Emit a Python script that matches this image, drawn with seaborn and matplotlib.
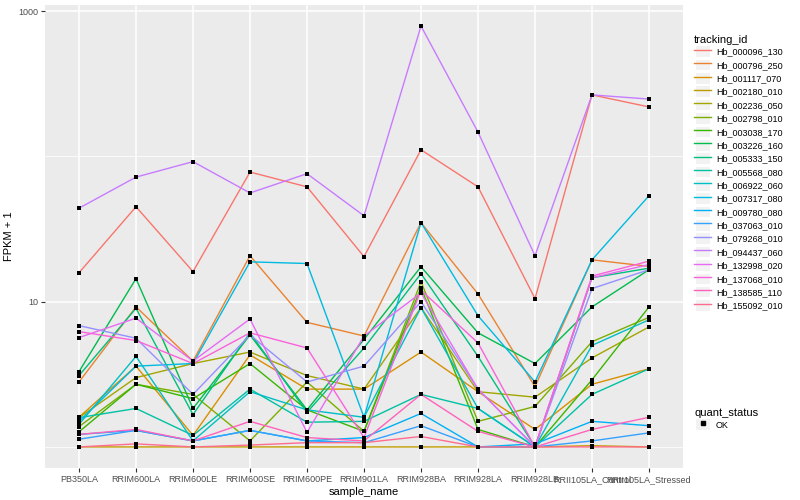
import pandas as pd
import matplotlib
matplotlib.use('Agg')
import matplotlib.pyplot as plt
import seaborn as sns
from matplotlib.lines import Line2D
from matplotlib.patches import Rectangle
from matplotlib.legend_handler import HandlerLine2D
from matplotlib.ticker import FixedLocator, NullFormatter

# =============================================================================
# Data (FPKM + 1)
# =============================================================================
samples = ['PB350LA', 'RRIM600LA', 'RRIM600LE', 'RRIM600SE', 'RRIM600PE',
           'RRIM901LA', 'RRIM928BA', 'RRIM928LA', 'RRIM928LB',
           'RRII105LA_Control', 'RRII105LA_Stressed']

tracking_ids = ['Hb_000096_130', 'Hb_000796_250', 'Hb_001117_070',
                'Hb_002180_010', 'Hb_002236_050', 'Hb_002798_010',
                'Hb_003038_170', 'Hb_003226_160', 'Hb_005333_150',
                'Hb_005568_080', 'Hb_006922_060', 'Hb_007317_080',
                'Hb_009780_080', 'Hb_037063_010', 'Hb_079268_010',
                'Hb_094437_060', 'Hb_132998_020', 'Hb_137068_010',
                'Hb_138585_110', 'Hb_155092_010']

hb_000096_130 = [15.8, 45, 16.1, 78, 61.7, 20.4, 111, 61.7, 10.5, 265, 219]
hb_000796_250 = [2.8, 9.2, 3.9, 20.7, 7.2, 5.8, 35, 11.3, 2.6, 19.4, 17.5]
hb_001117_070 = [1.6, 3.6, 1.2, 4.3, 2.5, 2.5, 4.5, 2.4, 1.32, 2.7, 3.45]
hb_002180_010 = [1.0, 1.0, 1.0, 1.0, 1.0, 1.0, 1.0, 1.0, 1.0, 1.02, 1.0]
hb_002236_050 = [1.59, 3.0, 3.75, 4.5, 3.1, 2.5, 9.1, 2.4, 2.2, 4.1, 6.7]
hb_002798_010 = [1.38, 2.7, 2.3, 1.1, 2.8, 1.28, 13.7, 1.5, 1.9, 5.3, 7.8]
hb_003038_170 = [1.27, 2.7, 2.15, 3.75, 1.8, 1.28, 12.5, 1.32, 1.0, 2.9, 9.2]
hb_003226_160 = [3.3, 14.4, 1.84, 5.9, 1.8, 5.5, 17.4, 6.1, 3.75, 9.2, 16.6]
hb_005333_150 = [3.1, 9.0, 1.67, 6.1, 1.73, 4.8, 15.6, 4.2, 1.0, 14.6, 17.0]
hb_005568_080 = [1.59, 1.84, 1.2, 2.5, 1.48, 1.5, 2.3, 1.84, 1.0, 2.3, 3.45]
hb_006922_060 = [1.43, 4.2, 1.1, 2.4, 1.8, 1.6, 9.1, 1.84, 1.0, 5.0, 7.5]
hb_007317_080 = [1.5, 3.6, 3.75, 18.8, 18.3, 1.6, 35, 8.0, 2.8, 19.4, 53.6]
hb_009780_080 = [1.22, 1.3, 1.1, 1.3, 1.1, 1.16, 1.7, 1.0, 1.05, 1.5, 1.4]
hb_037063_010 = [1.13, 1.3, 1.1, 1.3, 1.1, 1.07, 1.4, 1.0, 1.0, 1.1, 1.25]
hb_079268_010 = [6.84, 5.6, 2.3, 5.9, 2.8, 3.6, 10.0, 2.5, 1.0, 12.3, 16.6]
hb_094437_060 = [44, 72, 92, 56, 76, 39, 789, 147, 20.7, 265, 248]
hb_132998_020 = [5.66, 7.7, 3.9, 7.6, 1.26, 5.8, 11.5, 2.5, 1.0, 14.6, 18.0]
hb_137068_010 = [6.22, 5.4, 3.75, 6.1, 4.8, 1.16, 12.0, 5.2, 1.0, 15.0, 19.0]
hb_138585_110 = [1.22, 1.32, 1.1, 1.5, 1.16, 1.1, 2.3, 1.28, 1.0, 1.32, 1.6]
hb_155092_010 = [1.0, 1.05, 1.0, 1.03, 1.07, 1.07, 1.18, 1.0, 1.0, 1.0, 1.0]

series = [hb_000096_130, hb_000796_250, hb_001117_070, hb_002180_010,
          hb_002236_050, hb_002798_010, hb_003038_170, hb_003226_160,
          hb_005333_150, hb_005568_080, hb_006922_060, hb_007317_080,
          hb_009780_080, hb_037063_010, hb_079268_010, hb_094437_060,
          hb_132998_020, hb_137068_010, hb_138585_110, hb_155092_010]

# ggplot2 default hue palette for 20 levels
palette = ['#F8766D', '#EA8331', '#D89000', '#C09B00', '#A3A500', '#7CAE00',
           '#39B600', '#00BB4E', '#00BF7D', '#00C1A3', '#00BFC4', '#00BAE0',
           '#00B0F6', '#35A2FF', '#9590FF', '#C77CFF', '#E76BF3', '#FA62DB',
           '#FF62BC', '#FF6C91']

rows = []
for tid, vals in zip(tracking_ids, series):
    for s, v in zip(samples, vals):
        rows.append({'tracking_id': tid, 'sample_name': s, 'fpkm1': v,
                     'quant_status': 'OK'})
df = pd.DataFrame(rows)
df['x'] = df.sample_name.map({s: i for i, s in enumerate(samples)})

# =============================================================================
# Plot
# =============================================================================
plt.rcParams['font.family'] = ['Liberation Sans', 'DejaVu Sans']

fig = plt.figure(figsize=(8, 5), dpi=100)
ax = fig.add_axes([0.056, 0.064, 0.798, 0.926])
ax.set_facecolor('#EBEBEB')

sns.lineplot(data=df, x='x', y='fpkm1', hue='tracking_id',
             hue_order=tracking_ids, palette=palette, sort=False,
             estimator=None, linewidth=1.0, ax=ax, legend=False, zorder=3)
sns.scatterplot(data=df, x='x', y='fpkm1', color='black', marker='s',
                s=9, linewidth=0, ax=ax, legend=False, zorder=4)

ax.set_yscale('log')
ax.set_ylim(10 ** -0.145, 10 ** 3.042)
ax.set_xlim(-0.6, len(samples) - 1 + 0.6)

ax.yaxis.set_major_locator(FixedLocator([10, 1000]))
ax.yaxis.set_minor_locator(FixedLocator([1, 100]))
ax.yaxis.set_minor_formatter(NullFormatter())
ax.set_yticklabels(['10', '1000'])
ax.set_xticks(range(len(samples)))
ax.set_xticklabels(samples)

ax.grid(which='major', color='white', linewidth=1.1, zorder=0)
ax.grid(which='minor', axis='y', color='white', linewidth=0.55, zorder=0)
ax.set_axisbelow(True)
for sp in ax.spines.values():
    sp.set_visible(False)
ax.tick_params(axis='both', which='major', length=3, width=0.8,
               color='#333333', labelcolor='#4D4D4D', labelsize=6.5, pad=2)
ax.tick_params(axis='y', which='minor', length=0)

ax.set_xlabel('sample_name', fontsize=8, color='black', labelpad=2)
ax.set_ylabel('FPKM + 1', fontsize=8, color='black', labelpad=3)


class KeyHandler(HandlerLine2D):
    def create_artists(self, legend, orig_handle, xdescent, ydescent,
                       width, height, fontsize, trans):
        rect = Rectangle((-xdescent + 1, -ydescent + 1), width - 2, height - 2,
                         facecolor='#F2F2F2', edgecolor='none',
                         transform=trans)
        arts = super().create_artists(legend, orig_handle, xdescent,
                                      ydescent, width, height, fontsize,
                                      trans)
        return [rect] + arts


line_handles = [Line2D([], [], color=c, linewidth=1.0) for c in palette]
leg1 = fig.legend(line_handles, tracking_ids, title='tracking_id',
                  loc='upper left', bbox_to_anchor=(0.862, 0.939),
                  frameon=False, fontsize=6.5, title_fontsize=8,
                  handlelength=1.9, handleheight=1.9, labelspacing=0.0,
                  handletextpad=0.5, borderpad=0,
                  handler_map={Line2D: KeyHandler()})
leg1._legend_box.align = 'left'

pt_handle = Line2D([], [], color='black', marker='s', markersize=2.5,
                   linestyle='none')
leg2 = fig.legend([pt_handle], ['OK'], title='quant_status',
                  loc='upper left', bbox_to_anchor=(0.862, 0.193),
                  frameon=False, fontsize=6.5, title_fontsize=8,
                  handlelength=1.9, handleheight=1.9, labelspacing=0.0,
                  handletextpad=0.5, borderpad=0,
                  handler_map={Line2D: KeyHandler()})
leg2._legend_box.align = 'left'

fig.savefig('out.png', dpi=100)
